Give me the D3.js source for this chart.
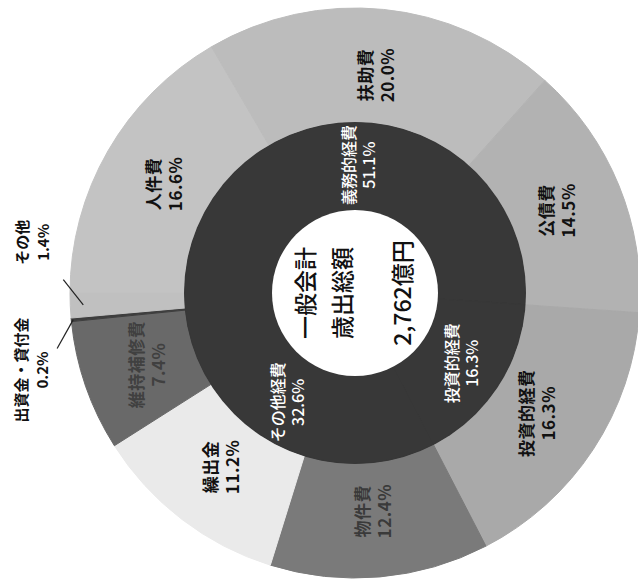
<!DOCTYPE html>
<html>
<head>
<meta charset="utf-8">
<script src="https://cdn.jsdelivr.net/npm/d3@7"></script>
<style>
  body { margin: 0; background: #fff; }
  svg { display: block; font-family: "Noto Sans CJK JP", sans-serif; }
</style>
</head>
<body>
<div id="chart"></div>
<script>
// inner ring: 経費の大分類
const innerNames = ["義務的経費", "投資的経費", "その他経費"];
const innerValues = [51.1, 16.3, 32.6];

// outer ring: 性質別内訳
const outerNames = ["人件費", "扶助費", "公債費", "投資的経費", "物件費", "繰出金", "維持補修費", "出資金・貸付金", "その他"];
const outerValues = [16.6, 20.0, 14.5, 16.3, 12.4, 11.2, 7.4, 0.2, 1.4];

const centerLines = ["一般会計", "歳出総額", "2,762億円"];

const app = () => {
    const width = 638, height = 585;
    const cx = 355, cy = 293;
    const r0 = 83, r1 = 170, r2 = 285;

    const outerColors = ["#c3c3c3", "#bcbcbc", "#b2b2b2", "#a9a9a9", "#7a7a7a", "#eaeaea", "#696969", "#3e3e3e", "#c0c0c0"];
    const outerText = ["#111", "#111", "#111", "#111", "#3a3a3a", "#111", "#404040", "#111", "#111"];

    const svg = d3.select("#chart").append("svg")
        .attr("width", width)
        .attr("height", height);

    const g = svg.append("g").attr("transform", `translate(${cx},${cy})`);

    // chart starts at 9 o'clock and runs clockwise
    const pie = d3.pie().sort(null).startAngle(-Math.PI / 2).endAngle(Math.PI * 1.5);

    const innerArcs = pie(innerValues);
    const outerArcs = pie(outerValues);

    const innerArc = d3.arc().innerRadius(r0).outerRadius(r1);
    const outerArc = d3.arc().innerRadius(r1).outerRadius(r2);

    g.append("g").selectAll("path")
        .data(outerArcs)
        .enter().append("path")
        .attr("d", outerArc)
        .attr("fill", (d, i) => outerColors[i])
        .attr("stroke", (d, i) => outerColors[i])
        .attr("stroke-width", 1);

    g.append("circle").attr("r", r1 + 1).attr("fill", "#383838");

    g.append("g").selectAll("path")
        .data(innerArcs)
        .enter().append("path")
        .attr("d", innerArc)
        .attr("fill", "#383838")
        .attr("stroke", "#383838")
        .attr("stroke-width", 1);

    // polar helper, d3 angle convention (0 = top, clockwise)
    const polar = (a, r) => [r * Math.sin(a), -r * Math.cos(a)];
    const mid = d => (d.startAngle + d.endAngle) / 2;

    // two-line vertical label (text reads bottom to top)
    function label(pos, lines, opts) {
        const t = g.append("text")
            .attr("transform", `translate(${pos[0]},${pos[1]}) rotate(-90)`)
            .attr("text-anchor", "middle")
            .attr("font-size", opts.size)
            .attr("font-weight", opts.weight)
            .attr("letter-spacing", opts.ls || 0)
            .attr("fill", opts.fill);
        lines.forEach((s, k) => {
            t.append("tspan")
                .attr("x", 0)
                .attr("y", (k - (lines.length - 1) / 2) * opts.lh)
                .attr("dy", "0.36em")
                .text(s);
        });
    }

    innerArcs.forEach((d, i) => {
        label(polar(mid(d), 128), [innerNames[i], innerValues[i].toFixed(1) + "%"],
            { size: 16, weight: 500, fill: "#fff", lh: 20 });
    });

    // the two thin slices get labels outside with a leader line
    const outside = { 7: { da: -0.14, r: 332, l0: 283, l1: 303, la: -0.09 },
                      8: { da: 0.20, r: 326, l0: 272, l1: 292, la: 0.09 } };

    outerArcs.forEach((d, i) => {
        const text = [outerNames[i], outerValues[i].toFixed(1) + "%"];
        const o = outside[i];
        if (o) {
            const a = mid(d);
            const p0 = polar(a, o.l0), p1 = polar(a + o.la, o.l1);
            g.append("line")
                .attr("x1", p0[0]).attr("y1", p0[1])
                .attr("x2", p1[0]).attr("y2", p1[1])
                .attr("stroke", "#222").attr("stroke-width", 1.2);
            label(polar(a + o.da, o.r), text, { size: 15, weight: 600, fill: "#111", lh: 21 });
        } else {
            label(polar(mid(d), 219), text, { size: 17, weight: 600, fill: outerText[i], lh: 22, ls: 0.5 });
        }
    });

    // centre
    g.append("circle").attr("r", r0).attr("fill", "#fff");
    const ct = g.append("text")
        .attr("transform", "rotate(-90)")
        .attr("text-anchor", "middle")
        .attr("font-size", 23)
        .attr("font-weight", 500)
        .attr("fill", "#111");
    const ys = [-49, -12, 48];
    centerLines.forEach((s, k) => {
        ct.append("tspan").attr("x", 0).attr("y", ys[k]).attr("dy", "0.36em").text(s);
    });
};

window.addEventListener("load", function() {
    app();
});
</script>
</body>
</html>
